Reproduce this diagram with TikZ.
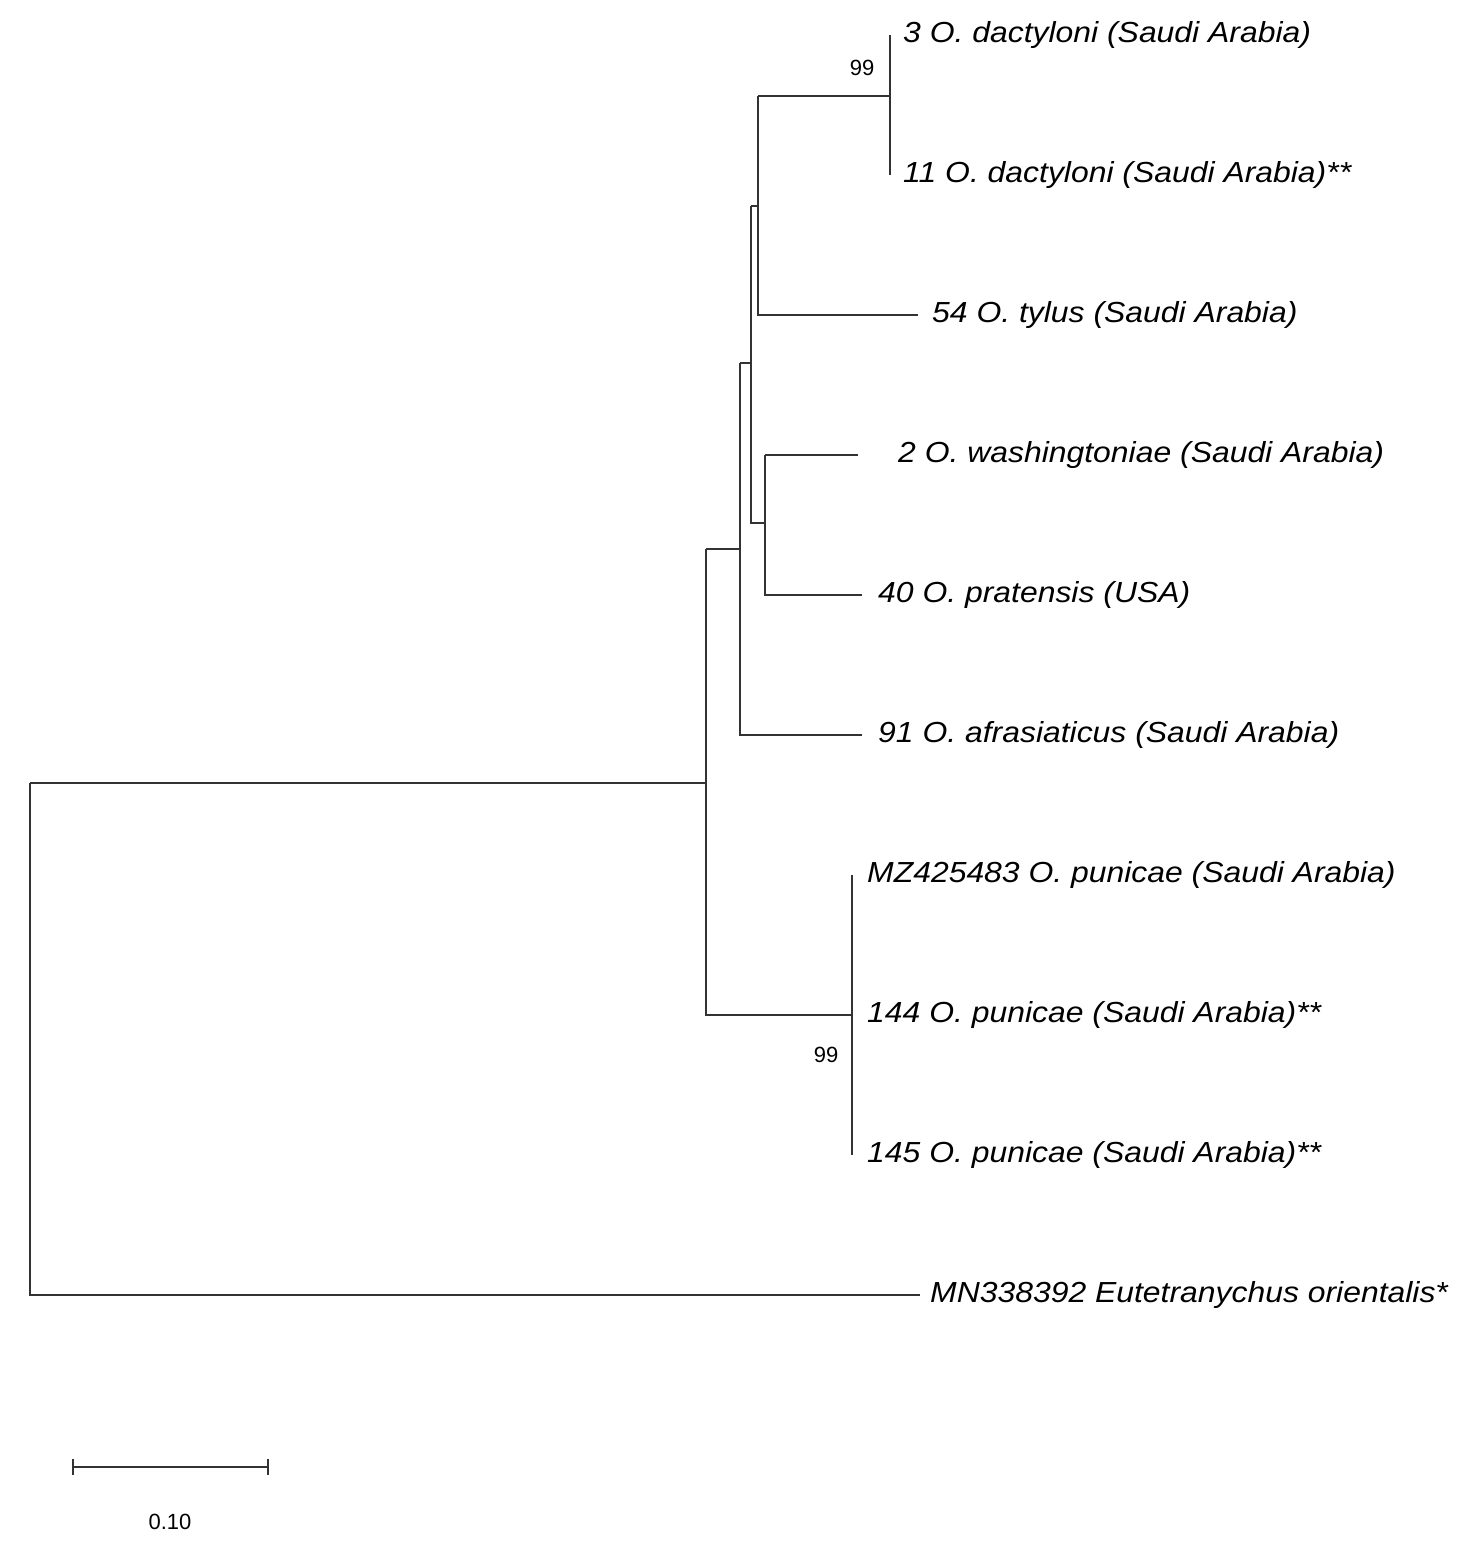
\documentclass[tikz,border=0pt]{standalone}
\usepackage{fontspec}
\setmainfont{Liberation Sans}
\begin{document}
\begin{tikzpicture}[x=1pt,y=-1pt,
  br/.style={line width=2.4pt,draw=black!80},
  lab/.style={anchor=west,font=\fontsize{29}{31}\selectfont\itshape,inner sep=0pt,xscale=1.1,transform shape},
  bs/.style={font=\fontsize{22}{24}\selectfont,inner sep=0pt}]
\useasboundingbox (0,0) rectangle (1476,1541);
\coordinate (l3) at (890,35);
\coordinate (l11) at (890,175);
\coordinate (l54) at (918,315);
\coordinate (l2) at (858,455);
\coordinate (l40) at (862,595);
\coordinate (l91) at (862,735);
\coordinate (lmz) at (852,875);
\coordinate (l144) at (852,1015);
\coordinate (l145) at (852,1155);
\coordinate (lout) at (920,1295);
\node[lab] (t3) at (903,35) {3 O. dactyloni (Saudi Arabia)};
\node[lab] (t11) at (903,175) {11 O. dactyloni (Saudi Arabia)**};
\node[lab] (t54) at (932,315) {54 O. tylus (Saudi Arabia)};
\node[lab] (t2) at (898,455) {2 O. washingtoniae (Saudi Arabia)};
\node[lab] (t40) at (878,595) {40 O. pratensis (USA)};
\node[lab] (t91) at (878,735) {91 O. afrasiaticus (Saudi Arabia)};
\node[lab] (tmz) at (867,875) {MZ425483 O. punicae (Saudi Arabia)};
\node[lab] (t144) at (867,1015) {144 O. punicae (Saudi Arabia)**};
\node[lab] (t145) at (867,1155) {145 O. punicae (Saudi Arabia)**};
\node[lab] (tout) at (930,1295) {MN338392 Eutetranychus orientalis*};
\node[bs] (b1) at (862,68) {99};
\node[bs] (b2) at (826,1055) {99};
\draw[br] (l3) -- (l11);
\draw[br] (758,96) -- (l3 |- 0,96);
\draw[br] (758,96) |- (l54);
\draw[br] (751,206) -- (758,206);
\draw[br] (751,206) -- (751,523) -- (765,523);
\draw[br] (765,455) -- (l2);
\draw[br] (765,455) |- (l40);
\draw[br] (740,363) -- (751,363);
\draw[br] (740,363) |- (l91);
\draw[br] (706,549) -- (740,549);
\draw[br] (706,549) |- (l144);
\draw[br] (lmz) -- (l145);
\draw[br] (30,783) -- (706,783);
\draw[br] (30,783) |- (lout);
\coordinate (s1) at (73,1467);
\coordinate (s2) at (268,1467);
\draw[br] (s1) -- (s2);
\draw[br] ([yshift=-8]s1) -- ([yshift=8]s1);
\draw[br] ([yshift=-8]s2) -- ([yshift=8]s2);
\node[bs] (sl) at (170,1522) {0.10};
\end{tikzpicture}
\end{document}
